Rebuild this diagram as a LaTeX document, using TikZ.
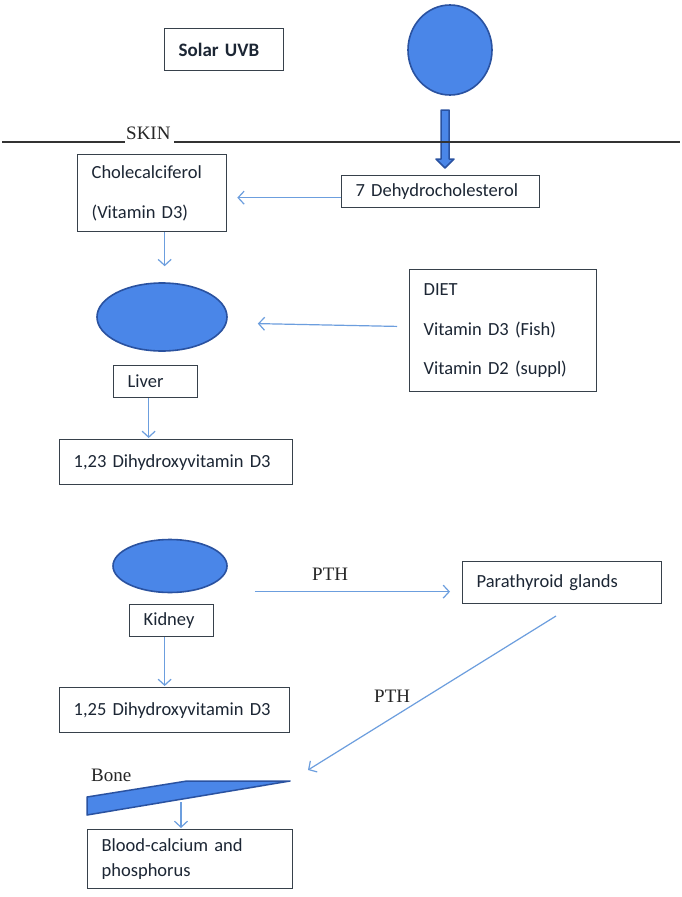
\documentclass[tikz,border=0pt]{standalone}
\usepackage{fontspec}
\setmainfont{Carlito}
\newfontfamily\seriffam{Liberation Serif}
\usetikzlibrary{arrows.meta,shapes.geometric,calc}
\definecolor{fillblue}{RGB}{74,134,232}
\definecolor{edgeblue}{RGB}{42,82,160}
\definecolor{arrowblue}{RGB}{108,158,222}
\definecolor{boxline}{RGB}{55,65,75}
\definecolor{txt}{RGB}{28,38,52}
\begin{document}
\begin{tikzpicture}[x=1pt,y=-1pt,
  box/.style={draw=boxline, line width=1.3pt, rectangle, anchor=north west,
    inner ysep=0pt, inner xsep=14pt, align=left, text=txt,
    font=\fontsize{18.5}{22}\selectfont},
  blob/.style={ellipse, draw=edgeblue, line width=1.6pt, fill=fillblue, inner sep=0pt},
  conn/.style={draw=arrowblue, line width=1.2pt,
    -{Straight Barb[length=6pt,width=13pt,line width=1.2pt]}},
  seriflabel/.style={font=\seriffam\fontsize{19}{22}\selectfont, anchor=base west,
    inner sep=0pt, text=black!85},
  shapeline/.style={draw=edgeblue, fill=fillblue, line width=1.5pt, line join=round}
]
\useasboundingbox (0,0) rectangle (682,897);
\fill[white] (0,0) rectangle (682,897);

% ---- top: sun and skin
\node[box, text width=91pt, minimum height=42pt, font=\bfseries\fontsize{19}{22}\selectfont] (solar) at (164,28) {Solar UVB};
\node[blob, minimum width=84pt, minimum height=90pt] (sun) at (450,50) {};
\draw[shapeline] (441,110) -- (449,110) -- (449,159) -- (454,159) -- (445,168) -- (436,159) -- (441,159) -- cycle;

\node[seriflabel] (skin) at (126,139) {SKIN};
\coordinate (skinL) at (2,142);
\coordinate (skinR) at (680,142);
\draw[line width=1.1pt, black!80] (skinL) -- (125,142);
\draw[line width=1.1pt, black!80] (174,142) -- (skinR);

\node[box, text width=170pt, minimum height=32pt] (dehydro) at (341,175) {7 Dehydrocholesterol};
\node[box, text width=121pt, minimum height=77pt, font=\fontsize{18.5}{40}\selectfont] (chole) at (77,154) {Cholecalciferol\\(Vitamin D3)};

% ---- liver
\node[blob, minimum width=130pt, minimum height=68pt] (liver) at (162,317) {};
\node[box, text width=159pt, minimum height=122pt, font=\fontsize{18.5}{39.5}\selectfont] (diet) at (409,269) {DIET\\Vitamin D3 (Fish)\\Vitamin D2 (suppl)};
\node[box, text width=56pt, minimum height=32pt] (liverbox) at (113,365) {Liver};
\node[box, text width=205pt, minimum height=45pt] (d123) at (59,439) {1,23 Dihydroxyvitamin D3};

% ---- kidney
\node[blob, minimum width=114pt, minimum height=53pt] (kidney) at (170,566) {};
\node[box, text width=56pt, minimum height=32pt] (kidneybox) at (129,604) {Kidney};
\node[box, text width=202pt, minimum height=45pt] (d125) at (59,687) {1,25 Dihydroxyvitamin D3};
\node[box, text width=171pt, minimum height=42pt] (para) at (462,561) {Parathyroid glands};
\node[seriflabel] (pth1) at (312,580) {PTH};
\node[seriflabel] (pth2) at (374,702) {PTH};

% ---- bone
\node[seriflabel] (bonelabel) at (91,781) {Bone};
\draw[shapeline] (87,797) -- (187,781) -- (290,781) -- (87,815) -- cycle;
\coordinate (bonearr) at (181,802);
\node[box, text width=177pt, minimum height=59pt, font=\fontsize{18.5}{25}\selectfont] (blood) at (87,829) {Blood-calcium and\\phosphorus};

% ---- connectors
\draw[conn, shorten >=10pt] ([yshift=-6pt]dehydro.west) -- ([yshift=-6pt]dehydro.west -| chole.east);
\draw[conn, shorten >=16pt] ([xshift=12.5pt]chole.south) -- ([xshift=12.5pt]chole.south |- liver.north);
\draw[conn, shorten <=12pt, shorten >=30pt] ([yshift=4pt]diet.west) -- ([yshift=-6pt]liver.east);
\draw[conn, shorten >=1pt] ([xshift=-7pt]liverbox.south) -- ([xshift=-7pt]liverbox.south |- d123.north);
\draw[conn, shorten >=1pt] ([xshift=-7pt]kidneybox.south) -- ([xshift=-7pt]kidneybox.south |- d125.north);
\draw[conn, shorten <=27pt, shorten >=12pt] ([yshift=-9pt]para.west -| kidney.east) -- ([yshift=-9pt]para.west);
\coordinate (ptha) at (556,616);
\coordinate (pthb) at (308,770);
\draw[conn] (ptha) -- (pthb);
\draw[conn, shorten >=1pt] (bonearr) -- (bonearr |- blood.north);
\end{tikzpicture}
\end{document}
